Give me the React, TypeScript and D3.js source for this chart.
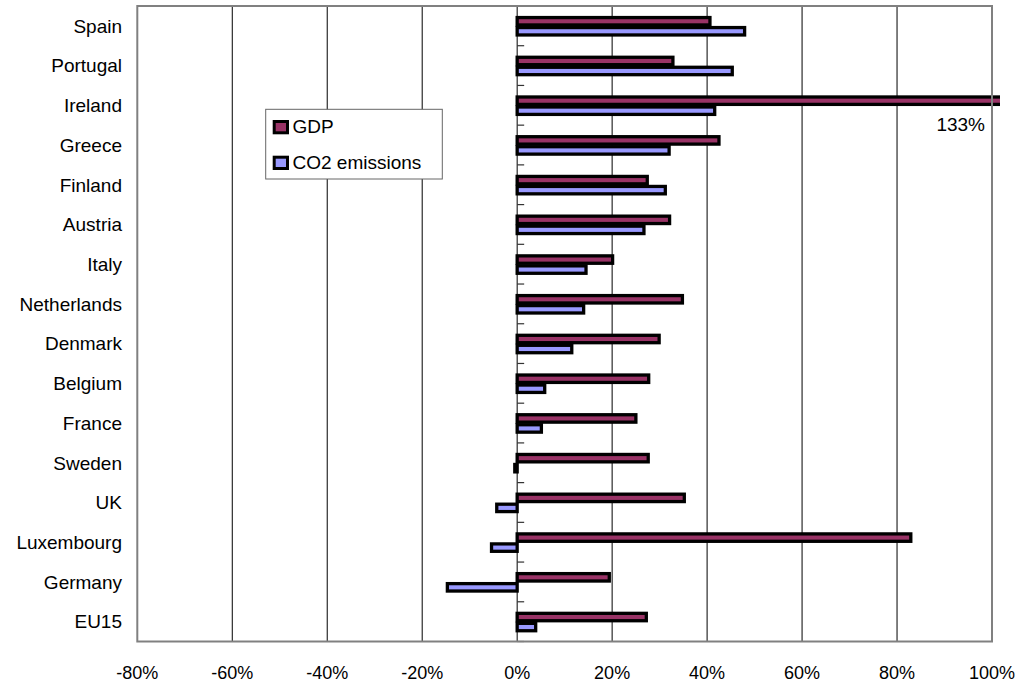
import React from "react";
import * as d3 from "d3";

const categories = [
  "Spain", "Portugal", "Ireland", "Greece", "Finland", "Austria", "Italy",
  "Netherlands", "Denmark", "Belgium", "France", "Sweden", "UK",
  "Luxembourg", "Germany", "EU15",
];
const gdpValues = [40.6, 32.8, 133, 42.5, 27.4, 32.1, 20.1, 34.8, 29.9, 27.7, 25.0, 27.6, 35.2, 82.9, 19.4, 27.2];
const co2Values = [47.9, 45.3, 41.6, 32.0, 31.2, 26.7, 14.5, 14.0, 11.5, 5.8, 5.1, -0.5, -4.3, -5.4, -14.7, 3.9];
const xTicks = [-80, -60, -40, -20, 0, 20, 40, 60, 80, 100];
const seriesNames = ["GDP", "CO2 emissions"];
const seriesColors = ["#993366", "#9999FF"];
const overflowLabel = "133%";

const W = 1023;
const H = 685;
const L = 137.3, R = 992, T = 6, B = 641.5;
const FONT = "'Liberation Sans', Arial, Helvetica, sans-serif";

export default function App() {
  const x = d3.scaleLinear().domain([-80, 100]).range([L, R]);
  const y = d3.scaleBand<string>().domain(categories).range([T, B]);
  const bw = y.bandwidth();
  const pitch = bw * 0.252;
  const barH = pitch * 0.74;
  const sw = 3.3;
  const x0 = x(0);

  const bar = (v: number, c: number, off: number, color: string, key: string) => {
    const xv = x(v);
    const left = Math.min(x0, xv);
    const width = Math.abs(xv - x0);
    return (
      <rect key={key} x={left} y={c + off} width={width} height={barH}
        fill={color} stroke="#000" strokeWidth={sw} clipPath="url(#clipBars)" />
    );
  };

  const series = [gdpValues, co2Values];

  return (
    <div style={{ position: "absolute", left: 0, top: 0 }}>
      <svg width={W} height={H} style={{ display: "block", background: "#fff" }}>
        <defs>
          <clipPath id="clipBars">
            <rect x={0} y={0} width={1000} height={H} />
          </clipPath>
        </defs>
        {xTicks.filter(t => t > -80 && t < 100).map(t => (
          <line key={"g" + t} x1={x(t)} x2={x(t)} y1={T} y2={B} stroke="#000" strokeWidth={1} />
        ))}
        {categories.map((c, i) => (
          <line key={"t" + i} x1={x0} x2={x0 + 7} y1={(y(c) as number)} y2={(y(c) as number)} stroke="#333" strokeWidth={1.2} />
        ))}
        <line x1={x0} x2={x0 + 7} y1={B} y2={B} stroke="#333" strokeWidth={1.2} />
        {categories.map((cat, i) => {
          const c = (y(cat) as number) + bw / 2;
          return (
            <g key={cat}>
              {bar(series[1][i], c, pitch * 0.17, seriesColors[1], cat + "co2")}
              {bar(series[0][i], c, -pitch * 0.83, seriesColors[0], cat + "gdp")}
            </g>
          );
        })}
        <rect x={L} y={T} width={R - L} height={B - T} fill="none" stroke="#808080" strokeWidth={2} />
        {categories.map(cat => (
          <text key={"l" + cat} x={122} y={(y(cat) as number) + bw / 2 + 6.8}
            textAnchor="end" fontFamily={FONT} fontSize={19} fill="#000">{cat}</text>
        ))}
        {xTicks.map(t => (
          <text key={"x" + t} x={x(t)} y={679} textAnchor="middle"
            fontFamily={FONT} fontSize={18} fill="#000">{`${t}%`}</text>
        ))}
        <text x={985} y={130.7} textAnchor="end" fontFamily={FONT} fontSize={19} fill="#000">{overflowLabel}</text>
        <rect x={265.7} y={109.3} width={176.6} height={69.7} fill="#fff" stroke="#666" strokeWidth={1} />
        {seriesNames.map((name, i) => {
          const sy = i === 0 ? 121.5 : 157.2;
          return (
            <g key={name}>
              <rect x={274.2} y={sy} width={13.3} height={11.3} fill={seriesColors[i]} stroke="#000" strokeWidth={3} />
              <text x={292.5} y={sy + 11.8} fontFamily={FONT} fontSize={19} fill="#000">{name}</text>
            </g>
          );
        })}
      </svg>
    </div>
  );
}
